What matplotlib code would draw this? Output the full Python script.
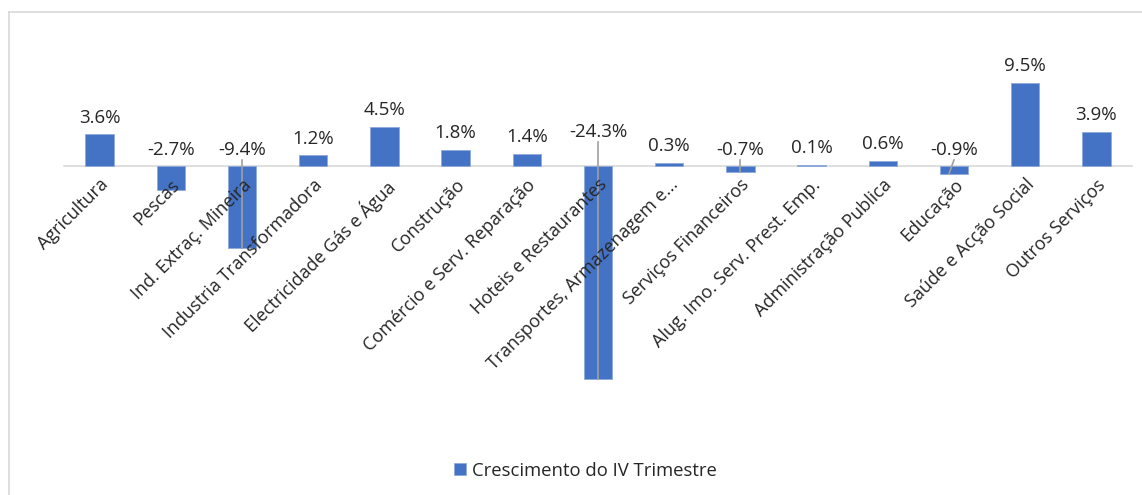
import matplotlib
matplotlib.use("Agg")
import matplotlib.pyplot as plt
from matplotlib.lines import Line2D

# Données du graphique
secteurs = [
    "Agricultura", "Pescas", "Ind. Extraç. Mineira", "Industria Transformadora",
    "Electricidade Gás e Água", "Construção", "Comércio e Serv. Reparação",
    "Hoteis e Restaurantes", "Transportes, Armazenagem e...", "Serviços Financeiros",
    "Alug. Imo. Serv. Prest. Emp.", "Administração Publica", "Educação",
    "Saúde e Acção Social", "Outros Serviços",
]
crescimento = [3.6, -2.7, -9.4, 1.2, 4.5, 1.8, 1.4, -24.3, 0.3, -0.7, 0.1, 0.6, -0.9, 9.5, 3.9]
serie_nom = "Crescimento do IV Trimestre"

BLEU = "#4472C4"
TEXTE = "#262626"
plt.rcParams["font.family"] = ["Open Sans", "DejaVu Sans"]

W, H = 1142, 495
fig = plt.figure(figsize=(W / 100, H / 100), dpi=100)

# Cadre gris (seulement gauche et haut visibles)
fig.add_artist(Line2D([9 / W, 9 / W], [0, 1 - 12 / H], color="#d9d9d9", lw=1.2))
fig.add_artist(Line2D([9 / W, 1], [1 - 12 / H, 1 - 12 / H], color="#d9d9d9", lw=1.2))

top_px, bot_px, zero_px, px_unit = 30, 430, 166, 8.77
ax = fig.add_axes([64 / W, 1 - bot_px / H, 1068 / W, (bot_px - top_px) / H])
ax.set_xlim(-0.5, len(secteurs) - 0.5)
ax.set_ylim(-(bot_px - zero_px) / px_unit, (zero_px - top_px) / px_unit)

x = list(range(len(secteurs)))
ax.bar(x, crescimento, width=0.4, color=BLEU, edgecolor="#8eaadb", linewidth=0.6,
       label=serie_nom, zorder=1)

# Axe horizontal à zéro
for s in ["top", "right", "left"]:
    ax.spines[s].set_visible(False)
ax.spines["bottom"].set_position(("data", 0))
ax.spines["bottom"].set_color("#d9d9d9")
ax.spines["bottom"].set_linewidth(1.2)
ax.xaxis.set_zorder(3)
ax.spines["bottom"].set_zorder(0.5)
ax.set_yticks([])
ax.set_xticks(x)
ax.set_xticklabels(secteurs, rotation=45, ha="right", rotation_mode="anchor",
                   fontsize=13, color=TEXTE)
ax.tick_params(axis="x", length=0, pad=7)

# Étiquettes de valeurs
avec_ligne = {2, 7, 9, 12}
for i, v in enumerate(crescimento):
    if v >= 0:
        y_lab = v + 0.9
    elif v < -20:
        y_lab = 2.8
    else:
        y_lab = 0.8
    ax.text(i, y_lab, f"{v:.1f}%", ha="center", va="bottom", fontsize=13.5, color=TEXTE,
            zorder=4)
    if i in avec_ligne:
        dx = -0.07 if i == 12 else 0.0
        ax.plot([i, i + dx], [y_lab - 0.1, v], color="#a0a0a0", lw=1.2, zorder=3)

leg = ax.legend(loc="upper center", bbox_to_anchor=(0.488, -(445 - bot_px) / (bot_px - top_px)),
                frameon=False, fontsize=13.3, handlelength=0.65, handleheight=0.65,
                handletextpad=0.3)
for t in leg.get_texts():
    t.set_color(TEXTE)

fig.savefig("out.png", dpi=100)
